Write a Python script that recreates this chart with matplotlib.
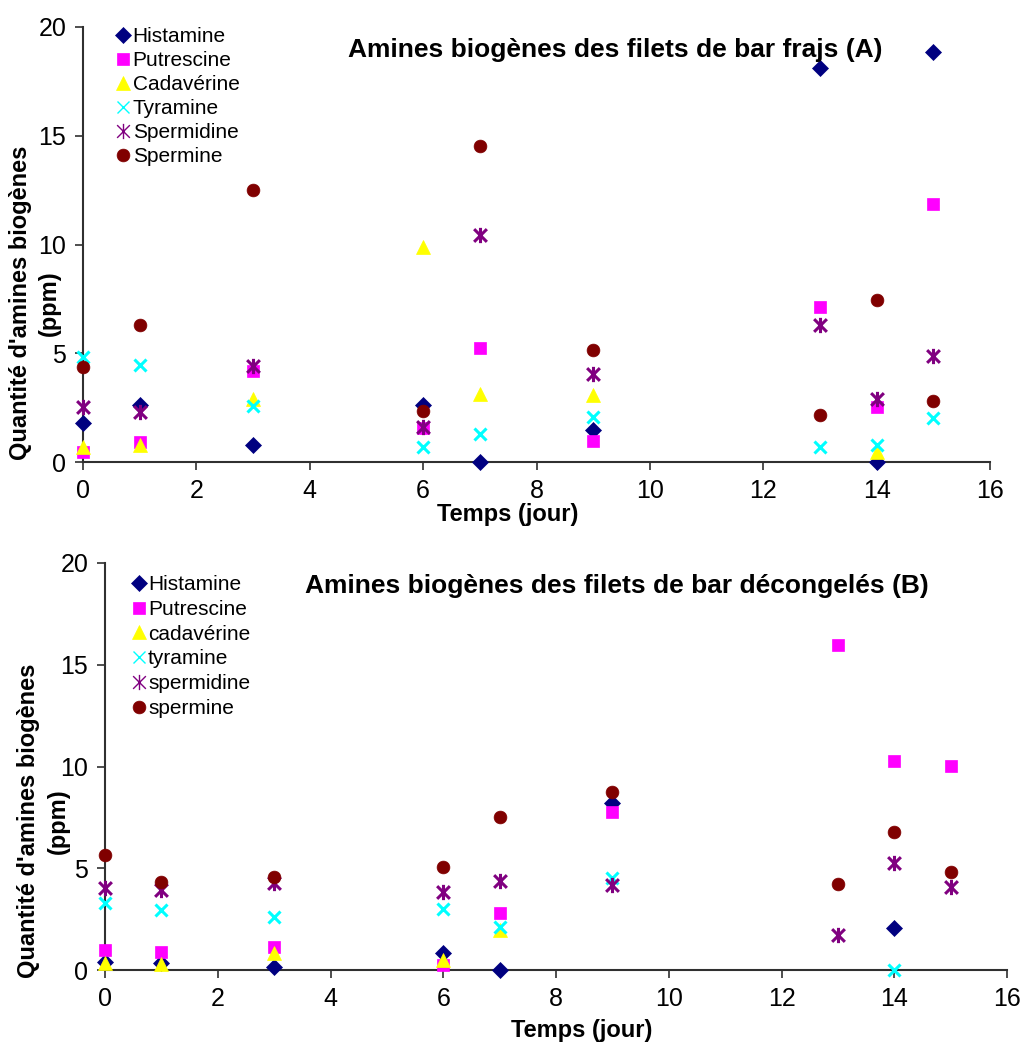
import numpy as np
import matplotlib
matplotlib.use("Agg")
import matplotlib.pyplot as plt
from matplotlib.path import Path

plt.rcParams['font.family'] = ['Liberation Sans', 'DejaVu Sans']

nan = np.nan
days = [0, 1, 3, 6, 7, 9, 13, 14, 15]

# Panel A : filets frais
A_histamine  = [1.8, 2.6, 0.8, 2.6, 0.0, 1.46, 18.1, 0.0, 18.85]
A_putrescine = [0.46, 0.92, 4.2, 1.56, 5.24, 0.97, 7.13, 2.53, 11.85]
A_cadaverine = [0.7, 0.77, 2.9, 9.9, 3.14, 3.07, nan, 0.46, nan]
A_tyramine   = [4.83, 4.47, 2.56, 0.69, 1.3, 2.07, 0.69, 0.77, 2.04]
A_spermidine = [2.53, 2.3, 4.41, 1.6, 10.42, 4.06, 6.31, 2.91, 4.86]
A_spermine   = [4.37, 6.28, 12.52, 2.33, 14.53, 5.13, 2.18, 7.46, 2.79]

# Panel B : filets décongelés
B_histamine  = [0.4, 0.33, 0.16, 0.82, 0.0, 8.2, nan, 2.05, nan]
B_putrescine = [0.98, 0.87, 1.11, 0.25, 2.79, 7.74, 15.95, 10.28, 10.03]
B_cadaverine = [0.33, 0.3, 0.82, 0.49, 1.97, nan, nan, nan, nan]
B_tyramine   = [3.28, 2.95, 2.62, 2.98, 2.13, 4.5, nan, 0.0, nan]
B_spermidine = [4.05, 3.93, 4.26, 3.85, 4.38, 4.18, 1.72, 5.25, 4.1]
B_spermine   = [5.66, 4.3, 4.56, 5.08, 7.54, 8.74, 4.21, 6.79, 4.84]

labels_A = ["Histamine", "Putrescine", "Cadavérine", "Tyramine", "Spermidine", "Spermine"]
labels_B = ["Histamine", "Putrescine", "cadavérine", "tyramine", "spermidine", "spermine"]
title_A = "Amines biogènes des filets de bar frajs (A)"
title_B = "Amines biogènes des filets de bar décongelés (B)"
xlabel = "Temps (jour)"
ylabel_1 = "Quantité d'amines biogènes"
ylabel_2 = "(ppm)"

colors = ["#000080", "#FF00FF", "#FFFF00", "#00FFFF", "#800080", "#800000"]

star = Path([(-1, -1), (1, 1), (-1, 1), (1, -1), (0, -1.2), (0, 1.2)],
            [Path.MOVETO, Path.LINETO, Path.MOVETO, Path.LINETO, Path.MOVETO, Path.LINETO])
markers = ["D", "s", "^", "x", star, "o"]
msizes = [8, 9, 9.5, 9, 11, 9.2]

W, H = 1036, 1045
fig = plt.figure(figsize=(W / 100, H / 100), dpi=100)

def px_axes(l, r, t, b):
    return fig.add_axes([l / W, 1 - b / H, (r - l) / W, (b - t) / H])

axA = px_axes(83, 990, 27, 462)
axB = px_axes(105, 1007, 563, 970)

def draw(ax, series, labels, title, title_xy, leg_xy, leg_sp, xlab_xy, ylab1_x, ylab2_x, ylab_y):
    handles = []
    for vals, lab, c, m, ms in zip(series, labels, colors, markers, msizes):
        is_line = (m == "x") or (m is star)
        h, = ax.plot(days, vals, linestyle="none", marker=m, markersize=ms,
                     color=c, markeredgecolor=c,
                     markeredgewidth=2.2 if is_line else 0.5,
                     label=lab, clip_on=False, zorder=3)
        handles.append(h)
    ax.set_xlim(0, 16)
    ax.set_ylim(0, 20)
    ax.set_xticks(range(0, 17, 2))
    ax.set_yticks(range(0, 21, 5))
    for s in ("top", "right"):
        ax.spines[s].set_visible(False)
    for s in ("left", "bottom"):
        ax.spines[s].set_color("#303030")
        ax.spines[s].set_linewidth(1.5)
    ax.tick_params(direction="out", length=6, width=1.2, color="#303030",
                   labelsize=18, pad=6)
    fig.text(title_xy[0] / W, 1 - title_xy[1] / H, title,
             fontsize=19, fontweight="bold", ha="left", va="center")
    fig.text(xlab_xy[0] / W, 1 - xlab_xy[1] / H, xlabel, fontsize=17,
             fontweight="bold", ha="center", va="center")
    fig.text(ylab1_x / W, 1 - ylab_y / H, ylabel_1, fontsize=17,
             fontweight="bold", ha="center", va="center", rotation=90)
    fig.text(ylab2_x / W, 1 - ylab_y / H, ylabel_2, fontsize=17,
             fontweight="bold", ha="center", va="center", rotation=90)
    leg = ax.legend(handles=handles, loc="upper left",
                    bbox_to_anchor=(leg_xy[0] / W, 1 - leg_xy[1] / H),
                    bbox_transform=fig.transFigure, frameon=False, fontsize=15,
                    handlelength=0.6, handletextpad=0.15, labelspacing=leg_sp,
                    borderpad=0, borderaxespad=0, markerscale=1.0)
    for lh in leg.legend_handles:
        if lh.get_marker() == "x" or not isinstance(lh.get_marker(), str):
            lh.set_markeredgewidth(1.0)

draw(axA, [A_histamine, A_putrescine, A_cadaverine, A_tyramine, A_spermidine, A_spermine],
     labels_A, title_A, (348, 50), (117, 27), 0.24, (508, 514), 21, 49, 303)
draw(axB, [B_histamine, B_putrescine, B_cadaverine, B_tyramine, B_spermidine, B_spermine],
     labels_B, title_B, (305, 586), (132.5, 575), 0.28, (582, 1031), 29, 58, 821)

fig.savefig("out.png", dpi=100)
